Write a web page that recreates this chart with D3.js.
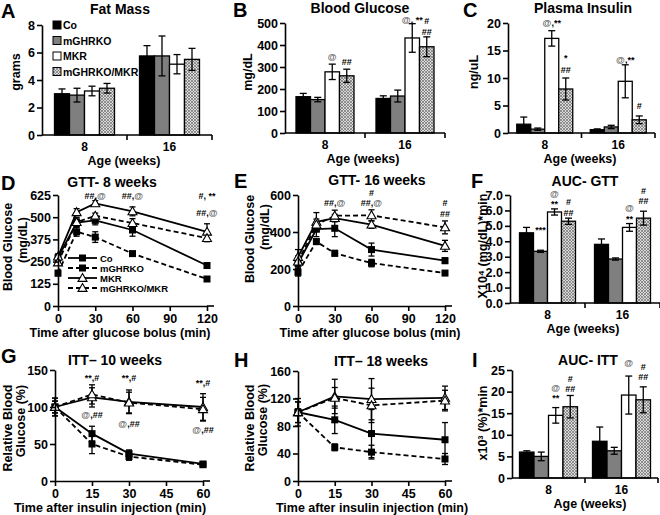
<!DOCTYPE html>
<html><head><meta charset="utf-8">
<script src="https://cdn.jsdelivr.net/npm/d3@7"></script>
<style>body{margin:0;background:#fff}</style>
</head><body>
<script>
// ---------------- DATA ----------------
const groups = ["Co", "mGHRKO", "MKR", "mGHRKO/MKR"];
const ages = ["8", "16"];

// bar panels: [age][group]
const fatMass = [[3.0, 2.9, 3.2, 3.4], [5.75, 5.75, 5.15, 5.5]];
const fatMassErr = [[0.35, 0.5, 0.35, 0.35], [0.75, 1.45, 0.7, 0.8]];
const fatMassTicks = [0, 2, 4, 6, 8];

const bloodGlucose = [[165, 152, 278, 260], [157, 168, 432, 392]];
const bloodGlucoseErr = [[15, 10, 35, 30], [12, 27, 65, 45]];
const bloodGlucoseTicks = [0, 100, 200, 300, 400, 500];
const bloodGlucoseMarks = [[0, 2, "@", 345], [0, 3, "##", 323], [1, 2, "@, **", 513], [1, 3, "#", 508], [1, 3, "##", 459]];

const insulin = [[1.6, 0.7, 17.2, 8.0], [0.6, 1.1, 9.4, 2.4]];
const insulinErr = [[1.3, 0.2, 1.4, 2.0], [0.15, 0.3, 3.0, 0.7]];
const insulinTicks = [0, 5, 10, 15, 20];
const insulinMarks = [[0, 2, "@,**", 20.0], [0, 3, "*", 13.6], [0, 3, "##", 11.5], [1, 2, "@,**", 13.3], [1, 3, "#", 4.9]];

const aucGtt = [[4.55, 3.35, 5.9, 5.3], [3.8, 2.85, 4.9, 5.5]];
const aucGttErr = [[0.35, 0.07, 0.2, 0.2], [0.35, 0.07, 0.25, 0.45]];
const aucGttTicks = [0, 1, 2, 3, 4, 5, 6, 7];
const aucGttMarks = [[0, 1, "***", 4.75], [0, 2, "@", 7.05], [0, 2, "**", 6.4], [0, 3, "#", 6.55], [0, 3, "##", 5.85],
                     [1, 2, "@", 6.15], [1, 2, "**", 5.45], [1, 3, "#", 7.3], [1, 3, "##", 6.6]];

const aucItt = [[6.0, 5.0, 14.5, 16.5], [8.5, 6.3, 19.2, 18.1]];
const aucIttErr = [[0.3, 1.0, 1.8, 2.6], [3.3, 0.8, 4.4, 3.0]];
const aucIttTicks = [0, 5, 10, 15, 20, 25];
const aucIttMarks = [[0, 2, "@", 20.9], [0, 2, "**", 18.5], [0, 3, "#", 23.0], [0, 3, "##", 20.6],
                     [1, 2, "@", 26.6], [1, 3, "#", 25.8], [1, 3, "##", 23.4]];

// line panels: [group][time]
const gttTimes = [0, 15, 30, 60, 120];
const gttXTicks = [0, 30, 60, 90, 120];
const gtt8 = [[272, 470, 482, 428, 228], [185, 418, 388, 295, 152], [278, 528, 578, 533, 418], [245, 472, 508, 467, 382]];
const gtt8Err = [[20, 25, 25, 35, 15], [15, 25, 30, 12, 10], [15, 20, 15, 25, 45], [15, 25, 15, 25, 20]];
const gtt8YTicks = [0, 125, 250, 375, 500, 625];
const gtt8Marks = [[30, "##,@", 620], [60, "##,@", 620], [120, "#, **", 620], [120, "##,@", 522]];

const gtt16 = [[230, 415, 420, 305, 245], [182, 348, 285, 232, 178], [265, 455, 475, 440, 325], [240, 440, 488, 490, 425]];
const gtt16Err = [[30, 40, 45, 35, 15], [20, 15, 15, 20, 12], [40, 50, 20, 20, 30], [30, 30, 30, 30, 35]];
const gtt16YTicks = [0, 200, 400, 600];
const gtt16Marks = [[30, "##,@", 555], [60, "#", 612], [60, "##,@", 555], [120, "#", 557], [120, "##", 500]];

const ittTimes = [0, 15, 30, 60];
const ittXTicks = [0, 15, 30, 45, 60];
const itt10 = [[100, 64, 37, 23], [100, 50, 33, 22], [100, 113, 107, 100], [100, 117, 106, 97]];
const itt10Err = [[12, 10, 5, 3], [12, 13, 5, 3], [8, 13, 16, 18], [8, 13, 14, 16]];
const itt10YTicks = [0, 50, 100, 150];
const itt10Marks = [[15, "**,#", 140], [30, "**,#", 139], [60, "**,#", 132], [15, "@,##", 89], [30, "@,##", 77], [60, "@,##", 69]];

const itt18 = [[100, 89, 69, 60], [100, 49, 42, 32], [100, 123, 119, 121], [100, 121, 110, 117]];
const itt18Err = [[15, 20, 35, 25], [5, 5, 10, 8], [15, 25, 30, 17], [20, 15, 25, 15]];
const itt18YTicks = [0, 40, 80, 120, 160];
const itt18Marks = [];

// ---------------- DRAWING ----------------
const FONT = "'Liberation Sans', Arial, sans-serif";
const W = 660, H = 515;
const svg = d3.select("body").append("svg").attr("width", W).attr("height", H)
  .style("font-family", FONT).style("font-weight", "bold");
svg.append("rect").attr("width", W).attr("height", H).attr("fill", "#fff");

const defs = svg.append("defs");
const pat = defs.append("pattern").attr("id", "hatch").attr("patternUnits", "userSpaceOnUse")
  .attr("width", 3).attr("height", 3);
pat.append("rect").attr("width", 3).attr("height", 3).attr("fill", "#dadada");
pat.append("path").attr("d", "M0,0L3,3M3,0L0,3").attr("stroke", "#6e6e6e").attr("stroke-width", 0.7);

const fills = ["#000", "#7f7f7f", "#fff", "url(#hatch)"];
const dashes = [null, "5,3", null, "5,3"];
const markerType = ["sq", "sq", "tri", "tri"];

function txt(g, x, y, s, size, anchor, fill) {
  return g.append("text").attr("x", x).attr("y", y).attr("font-size", size)
    .attr("text-anchor", anchor || "middle").attr("fill", fill || "#000").text(s);
}
function styleAxis(sel) {
  sel.selectAll("path,line").attr("stroke", "#000").attr("stroke-width", 1.6);
  sel.selectAll("text").attr("font-size", 12.5).attr("font-weight", "bold").attr("fill", "#000")
    .attr("font-family", FONT);
}
function vlabel(g, x, y, s, size) {
  g.append("text").attr("transform", `translate(${x},${y}) rotate(-90)`).attr("text-anchor", "middle")
    .attr("dy", "0.35em").attr("font-size", size).text(s);
}
function markText(g, x, y, s) {
  const t = g.append("text").attr("x", x).attr("y", y).attr("dy", "0.35em").attr("text-anchor", "middle")
    .attr("font-size", 9);
  s.split(/(@)/).forEach(part => {
    if (!part) return;
    t.append("tspan").attr("fill", part === "@" ? "#666" : "#000").text(part);
  });
}
function errBar(g, x, y1, y2, cap) {
  g.append("line").attr("x1", x).attr("x2", x).attr("y1", y1).attr("y2", y2).attr("stroke", "#000").attr("stroke-width", 1.3);
  [y1, y2].forEach(yy => g.append("line").attr("x1", x - cap).attr("x2", x + cap).attr("y1", yy).attr("y2", yy)
    .attr("stroke", "#000").attr("stroke-width", 1.3));
}

function barPanel(o) {
  const g = svg.append("g");
  const y = d3.scaleLinear().domain([0, o.ticks[o.ticks.length - 1]]).range([o.yb, o.yt]);
  const x = d3.scaleBand().domain(ages).range([o.x0, o.x1]).padding(0);
  const sub = d3.scaleBand().domain(d3.range(groups.length)).range([-o.gw / 2, o.gw / 2]).padding(0);
  ages.forEach((a, i) => {
    const cx = x(a) + x.bandwidth() / 2;
    groups.forEach((s, j) => {
      const v = o.vals[i][j], e = o.errs[i][j];
      const bx = cx + sub(j);
      g.append("rect").attr("x", bx).attr("y", y(v)).attr("width", sub.bandwidth()).attr("height", y(0) - y(v))
        .attr("fill", fills[j]).attr("stroke", "#000").attr("stroke-width", 1.3);
      errBar(g, bx + sub.bandwidth() / 2, y(v + e), y(Math.max(0, v - e)), 3.5);
    });
  });
  const ya = g.append("g").attr("transform", `translate(${o.x0},0)`)
    .call(d3.axisLeft(y).tickValues(o.ticks).tickSize(5).tickSizeOuter(0).tickPadding(2));
  styleAxis(ya);
  g.append("line").attr("x1", o.x0).attr("x2", o.x1).attr("y1", o.yb).attr("y2", o.yb).attr("stroke", "#000").attr("stroke-width", 1.6);
  [x(ages[1]), o.x1].forEach(tx => g.append("line").attr("x1", tx).attr("x2", tx).attr("y1", o.yb).attr("y2", o.yb + 5)
    .attr("stroke", "#000").attr("stroke-width", 1.6));
  ages.forEach(a => txt(g, x(a) + x.bandwidth() / 2, o.yb + 16, a, 12));
  txt(g, o.xlabX, o.yb + 30, "Age (weeks)", 12.5);
  vlabel(g, o.ylabX, o.ylabY, o.ylab, 12.5);
  txt(g, o.titleX, o.titleY, o.title, 14);
  txt(g, o.lx, o.ly, o.letter, 20, "start");
  (o.marks || []).forEach(m => {
    const cx = x(ages[m[0]]) + x.bandwidth() / 2 + sub(m[1]) + sub.bandwidth() / 2;
    markText(g, cx, y(m[3]), m[2]);
  });
  return {g, x, y};
}

function drawMarker(g, type, cx, cy) {
  if (type === "sq") {
    g.append("rect").attr("x", cx - 3.5).attr("y", cy - 3.5).attr("width", 7).attr("height", 7).attr("fill", "#000");
  } else {
    const r = 4.5;
    g.append("path").attr("d", `M${cx},${cy - r}L${cx + r},${cy + r * 0.75}L${cx - r},${cy + r * 0.75}Z`)
      .attr("fill", "#fff").attr("stroke", "#000").attr("stroke-width", 1.1);
  }
}

function linePanel(o) {
  const g = svg.append("g");
  const tmax = o.xticks[o.xticks.length - 1];
  const x = d3.scaleLinear().domain([0, tmax]).range([o.x0, o.x1]);
  const y = d3.scaleLinear().domain([0, o.yticks[o.yticks.length - 1]]).range([o.yb, o.yt]);
  const line = d3.line().x((d, i) => x(o.times[i])).y(d => y(d));
  o.vals.forEach((ser, j) => {
    g.append("path").attr("d", line(ser)).attr("fill", "none").attr("stroke", "#000").attr("stroke-width", 1.8)
      .attr("stroke-dasharray", dashes[j]);
  });
  o.vals.forEach((ser, j) => {
    ser.forEach((v, i) => errBar(g, x(o.times[i]), y(v + o.errs[j][i]), y(v - o.errs[j][i]), 3));
  });
  o.vals.forEach((ser, j) => {
    ser.forEach((v, i) => drawMarker(g, markerType[j], x(o.times[i]), y(v)));
  });
  const ya = g.append("g").attr("transform", `translate(${o.x0},0)`)
    .call(d3.axisLeft(y).tickValues(o.yticks).tickSize(5).tickSizeOuter(0).tickPadding(2));
  styleAxis(ya);
  const xa = g.append("g").attr("transform", `translate(0,${o.yb})`)
    .call(d3.axisBottom(x).tickValues(o.xticks).tickSize(5).tickSizeOuter(0).tickPadding(3));
  styleAxis(xa);
  g.append("line").attr("x1", o.x1).attr("x2", o.x1 + 7).attr("y1", o.yb).attr("y2", o.yb).attr("stroke", "#000").attr("stroke-width", 1.6);
  txt(g, o.xlabX, o.yb + 31, o.xlab, 12.5);
  o.ylab.forEach((s, k) => vlabel(g, o.ylabX[k], o.ylabY[k], s, 12.5));
  txt(g, o.titleX, o.titleY, o.title, 14);
  txt(g, o.lx, o.ly, o.letter, 20, "start");
  o.marks.forEach(m => markText(g, x(m[0]), y(m[2]), m[1]));
  return {g, x, y};
}

// ---- Panel A ----
const A = barPanel({vals: fatMass, errs: fatMassErr, ticks: fatMassTicks, x0: 42, x1: 212, yb: 135, yt: 25, gw: 60,
  ylab: "grams", ylabX: 16, ylabY: 72, xlabX: 124, title: "Fat Mass", titleX: 120, titleY: 14, letter: "A", lx: 1, ly: 18});
groups.forEach((s, j) => {
  const ly = 25 + j * 15.5;
  A.g.append("rect").attr("x", 53).attr("y", ly - 4).attr("width", 8).attr("height", 8).attr("fill", fills[j])
    .attr("stroke", "#000").attr("stroke-width", 1);
  txt(A.g, 63, ly + 4, s, 10.5, "start");
});

// ---- Panel B ----
barPanel({vals: bloodGlucose, errs: bloodGlucoseErr, ticks: bloodGlucoseTicks, marks: bloodGlucoseMarks,
  x0: 285, x1: 445, yb: 133, yt: 23, gw: 58,
  ylab: "mg/dL", ylabX: 248, ylabY: 72, xlabX: 363, title: "Blood Glucose", titleX: 360, titleY: 13, letter: "B", lx: 233, ly: 17});

// ---- Panel C ----
barPanel({vals: insulin, errs: insulinErr, ticks: insulinTicks, marks: insulinMarks,
  x0: 508, x1: 655, yb: 133, yt: 23, gw: 56,
  ylab: "ng/uL", ylabX: 474, ylabY: 72, xlabX: 580, title: "Plasma Insulin", titleX: 583, titleY: 13, letter: "C", lx: 463, ly: 17});

// ---- Panel D ----
const D = linePanel({vals: gtt8, errs: gtt8Err, times: gttTimes, xticks: gttXTicks, yticks: gtt8YTicks, marks: gtt8Marks,
  x0: 58, x1: 207, yb: 306, yt: 195,
  ylab: ["Blood Glucose", "(mg/dL)"], ylabX: [8, 23], ylabY: [247, 240],
  xlab: "Time after glucose bolus (min)", xlabX: 120, title: "GTT- 8 weeks", titleX: 112, titleY: 187, letter: "D", lx: 1, ly: 190});
groups.forEach((s, j) => {
  const ly = 258 + j * 10;
  D.g.append("line").attr("x1", 68).attr("x2", 97).attr("y1", ly).attr("y2", ly).attr("stroke", "#000")
    .attr("stroke-width", 1.8).attr("stroke-dasharray", dashes[j]);
  drawMarker(D.g, markerType[j], 82.5, ly);
  txt(D.g, 100, ly + 3.5, s, 9.5, "start");
});

// ---- Panel E ----
linePanel({vals: gtt16, errs: gtt16Err, times: gttTimes, xticks: gttXTicks, yticks: gtt16YTicks, marks: gtt16Marks,
  x0: 298, x1: 445, yb: 306, yt: 195,
  ylab: ["Blood Glucose", "(mg/dL)"], ylabX: [250, 265], ylabY: [239, 227],
  xlab: "Time after glucose bolus (min)", xlabX: 370, title: "GTT- 16 weeks", titleX: 377, titleY: 185, letter: "E", lx: 234, ly: 188});

// ---- Panel F ----
barPanel({vals: aucGtt, errs: aucGttErr, ticks: aucGttTicks, marks: aucGttMarks,
  x0: 510, x1: 660, yb: 303, yt: 195, gw: 56,
  ylab: "X10\u2074 (mg/dL)*min", ylabX: 483, ylabY: 246, xlabX: 583, title: "AUC- GTT", titleX: 585, titleY: 186, letter: "F", lx: 471, ly: 188});

// ---- Panel G ----
linePanel({vals: itt10, errs: itt10Err, times: ittTimes, xticks: ittXTicks, yticks: itt10YTicks, marks: itt10Marks,
  x0: 55, x1: 203, yb: 481, yt: 370,
  ylab: ["Relative Blood", "Glucose (%)"], ylabX: [8, 21], ylabY: [428, 421],
  xlab: "Time after insulin injection (min)", xlabX: 110, title: "ITT\u2013 10 weeks", titleX: 115, titleY: 365, letter: "G", lx: 1, ly: 363});

// ---- Panel H ----
linePanel({vals: itt18, errs: itt18Err, times: ittTimes, xticks: ittXTicks, yticks: itt18YTicks, marks: itt18Marks,
  x0: 298, x1: 445, yb: 481, yt: 371,
  ylab: ["Relative Blood", "Glucose (%)"], ylabX: [250, 263], ylabY: [428, 420],
  xlab: "Time after insulin injection (min)", xlabX: 372, title: "ITT\u2013 18 weeks", titleX: 381, titleY: 366, letter: "H", lx: 234, ly: 367});

// ---- Panel I ----
barPanel({vals: aucItt, errs: aucIttErr, ticks: aucIttTicks, marks: aucIttMarks,
  x0: 512, x1: 658, yb: 478, yt: 370, gw: 58,
  ylab: "x10\u00b3 (%)*min", ylabX: 483, ylabY: 423, xlabX: 590, title: "AUC- ITT", titleX: 588, titleY: 365, letter: "I", lx: 472, ly: 367});
</script>
</body></html>
